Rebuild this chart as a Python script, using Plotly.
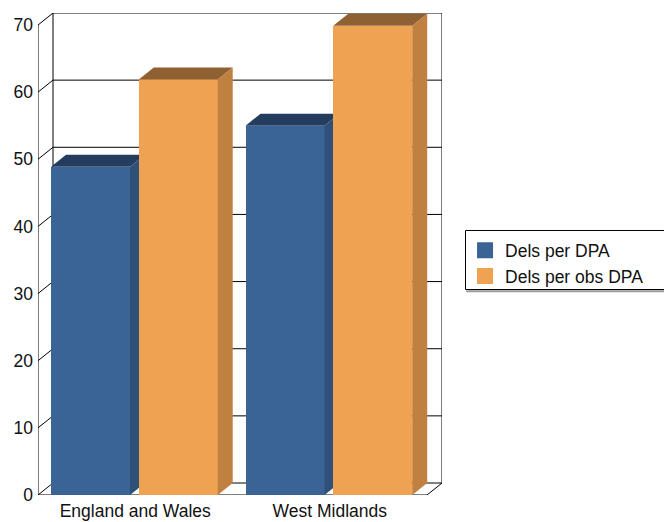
import plotly.graph_objects as go

# ---------------- data ----------------
categories = ["England and Wales", "West Midlands"]
series_names = ["Dels per DPA", "Dels per obs DPA"]
dels_per_dpa = [48.9, 55.0]
dels_per_obs_dpa = [61.9, 69.9]
y_tick_values = [0, 10, 20, 30, 40, 50, 60, 70]

# ---------------- style ----------------
FONT = "Liberation Sans, Arial, sans-serif"
FS = 17.5
DX = 0.0771          # 3D depth, x data units
DY = 1.787           # 3D depth, y data units
Y_MAX = 70
X_MIN, X_MAX = -0.5, 1.5
BAR_W = 0.406
OFFSETS = [-0.433, 0.018]
COLORS = [
    {"front": "#3B6496", "top": "#243D5E", "side": "#2F5078"},
    {"front": "#EEA252", "top": "#8F6032", "side": "#C08040"},
]

fig = go.Figure()
x_pos = list(range(len(categories)))
series_vals = [dels_per_dpa, dels_per_obs_dpa]
axes = [("x", "y"), ("x2", "y2")]

for s, (name, vals) in enumerate(zip(series_names, series_vals)):
    xa, ya = axes[s]
    c = COLORS[s]
    # front faces as real bars
    fig.add_trace(go.Bar(
        x=x_pos, y=vals, name=name, width=BAR_W, offset=OFFSETS[s],
        marker=dict(color=c["front"], line=dict(width=0)),
        xaxis=xa, yaxis=ya, showlegend=False,
        hovertemplate=name + ": %{y}<extra></extra>",
    ))
    # top and side faces
    tx, ty, sx, sy = [], [], [], []
    for i, v in zip(x_pos, vals):
        x0 = i + OFFSETS[s]
        x1 = x0 + BAR_W
        tx += [x0, x1, x1 + DX, x0 + DX, x0, None]
        ty += [v, v, v + DY, v + DY, v, None]
        sx += [x1, x1 + DX, x1 + DX, x1, x1, None]
        sy += [0, DY, v + DY, v, 0, None]
    for px, py, col in ((tx, ty, c["top"]), (sx, sy, c["side"])):
        fig.add_trace(go.Scatter(
            x=px, y=py, mode="lines", fill="toself", fillcolor=col,
            line=dict(width=0, color=col), xaxis=xa, yaxis=ya,
            showlegend=False, hoverinfo="skip",
        ))
    # legend entry
    fig.add_trace(go.Scatter(
        x=[None], y=[None], mode="markers", name=name,
        marker=dict(symbol="square", size=16, color=c["front"]),
        xaxis=xa, yaxis=ya, showlegend=True,
    ))

# ---------------- walls / grid ----------------
line = dict(color="#000000", width=1)
shapes = []
def seg(x0, y0, x1, y1):
    shapes.append(dict(type="line", xref="x", yref="y", x0=x0, y0=y0,
                       x1=x1, y1=y1, line=line, layer="below"))

for v in y_tick_values:
    seg(X_MIN + DX, v + DY, X_MAX + DX, v + DY)   # back wall grid
    seg(X_MIN, v, X_MIN + DX, v + DY)             # left wall grid
seg(X_MIN, 0, X_MIN, Y_MAX)                       # front axis
seg(X_MIN + DX, DY, X_MIN + DX, Y_MAX + DY)       # back-left edge
seg(X_MAX + DX, DY, X_MAX + DX, Y_MAX + DY)       # back-right edge
seg(X_MIN, 0, X_MAX, 0)                           # floor front
seg(X_MAX, 0, X_MAX + DX, DY)                     # floor right

# legend frame (runs off the right edge like the reference) + soft shadow
shapes.append(dict(type="line", xref="paper", yref="paper",
                   x0=1.060, x1=1.60, y0=0.4225, y1=0.4225,
                   line=dict(color="#9a9a9a", width=2), layer="above"))
shapes.append(dict(type="rect", xref="paper", yref="paper",
                   x0=1.0582, x1=1.60, y0=0.4263, y1=0.5488,
                   line=dict(color="#000000", width=1),
                   fillcolor="rgba(0,0,0,0)", layer="above"))

xr = [X_MIN, X_MAX + DX]
yr = [0, Y_MAX + DY]
fig.update_layout(
    width=664, height=522,
    margin=dict(l=38, r=222, t=13, b=27, autoexpand=False),
    paper_bgcolor="white", plot_bgcolor="white",
    font=dict(family=FONT, size=FS, color="#111111"),
    shapes=shapes,
    xaxis=dict(range=xr, tickvals=x_pos, ticktext=categories,
               showgrid=False, zeroline=False, showline=False, ticks="",
               ticklabelstandoff=3, automargin=False, fixedrange=True),
    yaxis=dict(range=yr, tickvals=y_tick_values, showgrid=False,
               zeroline=False, showline=False, ticks="", ticklabelstandoff=4,
               automargin=False, fixedrange=True),
    xaxis2=dict(range=xr, overlaying="x", visible=False, fixedrange=True),
    yaxis2=dict(range=yr, overlaying="y", visible=False, fixedrange=True),
    legend=dict(x=1.057, xanchor="left", y=0.545, yanchor="top",
                borderwidth=0, bgcolor="rgba(0,0,0,0)",
                font=dict(family=FONT, size=FS, color="#111111")),
    bargap=0, showlegend=True,
)

fig.write_html("out.html", config={"displayModeBar": False},
               post_script="document.body.style.margin='0';")
